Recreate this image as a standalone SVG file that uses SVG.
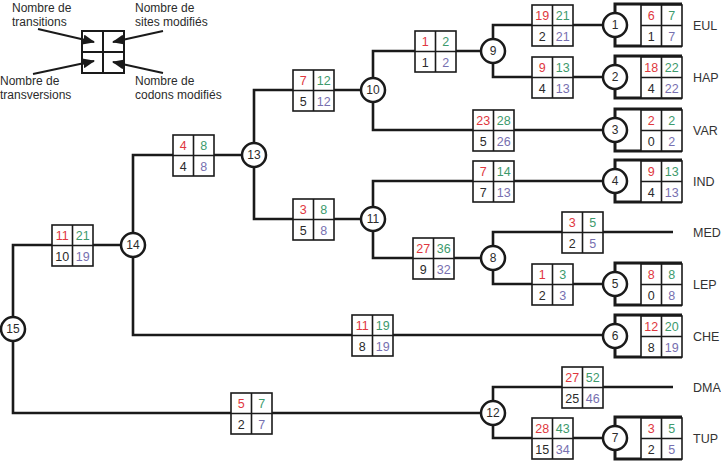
<svg xmlns="http://www.w3.org/2000/svg" width="721" height="465" viewBox="0 0 721 465">
<style>
text{font-family:"Liberation Sans",Arial,sans-serif;font-size:12.5px;fill:#2b2b2b}
.n{text-anchor:middle}
.r{fill:#e0383e}.g{fill:#3d9a6c}.p{fill:#7770b0}.k{fill:#2b2b2b}
.edge{fill:none;stroke:#1a1a1a;stroke-width:2.6}
.br{fill:none;stroke:#1a1a1a;stroke-width:3}
.box{fill:#fff;stroke:#1a1a1a;stroke-width:1.6}
.node circle{fill:#fff;stroke:#1a1a1a;stroke-width:2.5}
.node text{font-size:12px}
.tx{font-size:12.5px;fill:#333}
.leg{font-size:12px;fill:#2b2b2b}
.arr{stroke:#1a1a1a;stroke-width:2;fill:none}
</style>
<defs>
<g id="grid"><rect class="box" x="0" y="0" width="41" height="41"/><path d="M20.5 0V41M0 20.5H41" stroke="#1a1a1a" stroke-width="1.6"/></g>
<marker id="ah" markerUnits="userSpaceOnUse" markerWidth="12" markerHeight="10" refX="11" refY="5" orient="auto"><path d="M0,0 L12,5 L0,10 z" fill="#1a1a1a"/></marker>
</defs>

<g id="legend">
<rect x="82" y="31" width="42" height="42" fill="#fff" stroke="#1a1a1a" stroke-width="2"/>
<path d="M103 31V73M82 52H124" stroke="#1a1a1a" stroke-width="2"/>
<line class="arr" x1="38" y1="29" x2="94" y2="42" marker-end="url(#ah)"/>
<line class="arr" x1="163" y1="31" x2="113" y2="42" marker-end="url(#ah)"/>
<line class="arr" x1="33" y1="74" x2="94" y2="61" marker-end="url(#ah)"/>
<line class="arr" x1="163" y1="73" x2="113" y2="62" marker-end="url(#ah)"/>
<text class="leg" x="12" y="12">Nombre de</text>
<text class="leg" x="12" y="26">transitions</text>
<text class="leg" x="135" y="12">Nombre de</text>
<text class="leg" x="135" y="26">sites modifiés</text>
<text class="leg" x="0" y="85">Nombre de</text>
<text class="leg" x="0" y="99">transversions</text>
<text class="leg" x="135" y="85">Nombre de</text>
<text class="leg" x="135" y="99">codons modifiés</text>
</g>

<g id="connectors">
<path class="edge" d="M133 245H13V413H493"/>
<path class="edge" d="M254 155H133V335H615"/>
<path class="edge" d="M373 90H254V219H373"/>
<path class="edge" d="M493 51H373V130H615"/>
<path class="edge" d="M615 181H373V258H493"/>
<path class="edge" d="M615 25H493V77H615"/>
<path class="edge" d="M673 232H493V284H615"/>
<path class="edge" d="M673 387H493V438H615"/>
<path class="br" d="M682 4H615V46H682"/>
<path class="br" d="M682 56H615V98H682"/>
<path class="br" d="M682 109H615V151H682"/>
<path class="br" d="M682 160H615V202H682"/>
<path class="br" d="M682 263H615V305H682"/>
<path class="br" d="M682 315H615V357H682"/>
<path class="br" d="M682 417H615V459H682"/>
</g>

<g id="boxes">
<g id="b-10-9" transform="translate(415,31)"><use href="#grid"/><text class="n r" x="10.3" y="15">1</text><text class="n g" x="30.8" y="15">2</text><text class="n k" x="10.3" y="35.5">1</text><text class="n p" x="30.8" y="35.5">2</text></g>
<g id="b-9-1" transform="translate(532,5)"><use href="#grid"/><text class="n r" x="10.3" y="15">19</text><text class="n g" x="30.8" y="15">21</text><text class="n k" x="10.3" y="35.5">2</text><text class="n p" x="30.8" y="35.5">21</text></g>
<g id="b-9-2" transform="translate(532,57)"><use href="#grid"/><text class="n r" x="10.3" y="15">9</text><text class="n g" x="30.8" y="15">13</text><text class="n k" x="10.3" y="35.5">4</text><text class="n p" x="30.8" y="35.5">13</text></g>
<g id="b-10-3" transform="translate(473,110)"><use href="#grid"/><text class="n r" x="10.3" y="15">23</text><text class="n g" x="30.8" y="15">28</text><text class="n k" x="10.3" y="35.5">5</text><text class="n p" x="30.8" y="35.5">26</text></g>
<g id="b-11-4" transform="translate(473,161)"><use href="#grid"/><text class="n r" x="10.3" y="15">7</text><text class="n g" x="30.8" y="15">14</text><text class="n k" x="10.3" y="35.5">7</text><text class="n p" x="30.8" y="35.5">13</text></g>
<g id="b-8-med" transform="translate(562,212)"><use href="#grid"/><text class="n r" x="10.3" y="15">3</text><text class="n g" x="30.8" y="15">5</text><text class="n k" x="10.3" y="35.5">2</text><text class="n p" x="30.8" y="35.5">5</text></g>
<g id="b-11-8" transform="translate(413,238)"><use href="#grid"/><text class="n r" x="10.3" y="15">27</text><text class="n g" x="30.8" y="15">36</text><text class="n k" x="10.3" y="35.5">9</text><text class="n p" x="30.8" y="35.5">32</text></g>
<g id="b-8-5" transform="translate(532,264)"><use href="#grid"/><text class="n r" x="10.3" y="15">1</text><text class="n g" x="30.8" y="15">3</text><text class="n k" x="10.3" y="35.5">2</text><text class="n p" x="30.8" y="35.5">3</text></g>
<g id="b-14-6" transform="translate(352,315)"><use href="#grid"/><text class="n r" x="10.3" y="15">11</text><text class="n g" x="30.8" y="15">19</text><text class="n k" x="10.3" y="35.5">8</text><text class="n p" x="30.8" y="35.5">19</text></g>
<g id="b-12-dma" transform="translate(562,367)"><use href="#grid"/><text class="n r" x="10.3" y="15">27</text><text class="n g" x="30.8" y="15">52</text><text class="n k" x="10.3" y="35.5">25</text><text class="n p" x="30.8" y="35.5">46</text></g>
<g id="b-12-7" transform="translate(532,418)"><use href="#grid"/><text class="n r" x="10.3" y="15">28</text><text class="n g" x="30.8" y="15">43</text><text class="n k" x="10.3" y="35.5">15</text><text class="n p" x="30.8" y="35.5">34</text></g>
<g id="b-13-10" transform="translate(293,70)"><use href="#grid"/><text class="n r" x="10.3" y="15">7</text><text class="n g" x="30.8" y="15">12</text><text class="n k" x="10.3" y="35.5">5</text><text class="n p" x="30.8" y="35.5">12</text></g>
<g id="b-14-13" transform="translate(173,135)"><use href="#grid"/><text class="n r" x="10.3" y="15">4</text><text class="n g" x="30.8" y="15">8</text><text class="n k" x="10.3" y="35.5">4</text><text class="n p" x="30.8" y="35.5">8</text></g>
<g id="b-13-11" transform="translate(293,199)"><use href="#grid"/><text class="n r" x="10.3" y="15">3</text><text class="n g" x="30.8" y="15">8</text><text class="n k" x="10.3" y="35.5">5</text><text class="n p" x="30.8" y="35.5">8</text></g>
<g id="b-15-14" transform="translate(52,225)"><use href="#grid"/><text class="n r" x="10.3" y="15">11</text><text class="n g" x="30.8" y="15">21</text><text class="n k" x="10.3" y="35.5">10</text><text class="n p" x="30.8" y="35.5">19</text></g>
<g id="b-15-12" transform="translate(231,393)"><use href="#grid"/><text class="n r" x="10.3" y="15">5</text><text class="n g" x="30.8" y="15">7</text><text class="n k" x="10.3" y="35.5">2</text><text class="n p" x="30.8" y="35.5">7</text></g>
<g id="t-eul" transform="translate(641,5)"><use href="#grid"/><text class="n r" x="10.3" y="15">6</text><text class="n g" x="30.8" y="15">7</text><text class="n k" x="10.3" y="35.5">1</text><text class="n p" x="30.8" y="35.5">7</text></g>
<g id="t-hap" transform="translate(641,57)"><use href="#grid"/><text class="n r" x="10.3" y="15">18</text><text class="n g" x="30.8" y="15">22</text><text class="n k" x="10.3" y="35.5">4</text><text class="n p" x="30.8" y="35.5">22</text></g>
<g id="t-var" transform="translate(641,110)"><use href="#grid"/><text class="n r" x="10.3" y="15">2</text><text class="n g" x="30.8" y="15">2</text><text class="n k" x="10.3" y="35.5">0</text><text class="n p" x="30.8" y="35.5">2</text></g>
<g id="t-ind" transform="translate(641,161)"><use href="#grid"/><text class="n r" x="10.3" y="15">9</text><text class="n g" x="30.8" y="15">13</text><text class="n k" x="10.3" y="35.5">4</text><text class="n p" x="30.8" y="35.5">13</text></g>
<g id="t-lep" transform="translate(641,264)"><use href="#grid"/><text class="n r" x="10.3" y="15">8</text><text class="n g" x="30.8" y="15">8</text><text class="n k" x="10.3" y="35.5">0</text><text class="n p" x="30.8" y="35.5">8</text></g>
<g id="t-che" transform="translate(641,316)"><use href="#grid"/><text class="n r" x="10.3" y="15">12</text><text class="n g" x="30.8" y="15">20</text><text class="n k" x="10.3" y="35.5">8</text><text class="n p" x="30.8" y="35.5">19</text></g>
<g id="t-tup" transform="translate(641,418)"><use href="#grid"/><text class="n r" x="10.3" y="15">3</text><text class="n g" x="30.8" y="15">5</text><text class="n k" x="10.3" y="35.5">2</text><text class="n p" x="30.8" y="35.5">5</text></g>
</g>

<g id="node-1" class="node"><circle cx="615" cy="25" r="12"/><text class="n" x="615" y="29">1</text></g>
<g id="node-2" class="node"><circle cx="615" cy="77" r="12"/><text class="n" x="615" y="81">2</text></g>
<g id="node-3" class="node"><circle cx="615" cy="130" r="12"/><text class="n" x="615" y="134">3</text></g>
<g id="node-4" class="node"><circle cx="615" cy="181" r="12"/><text class="n" x="615" y="185">4</text></g>
<g id="node-5" class="node"><circle cx="615" cy="284" r="12"/><text class="n" x="615" y="288">5</text></g>
<g id="node-6" class="node"><circle cx="615" cy="336" r="12"/><text class="n" x="615" y="340">6</text></g>
<g id="node-7" class="node"><circle cx="615" cy="438" r="12"/><text class="n" x="615" y="442">7</text></g>
<g id="node-8" class="node"><circle cx="493" cy="258" r="12"/><text class="n" x="493" y="262">8</text></g>
<g id="node-9" class="node"><circle cx="493" cy="51" r="12"/><text class="n" x="493" y="55">9</text></g>
<g id="node-10" class="node"><circle cx="373" cy="90" r="12"/><text class="n" x="373" y="94">10</text></g>
<g id="node-11" class="node"><circle cx="373" cy="219" r="12"/><text class="n" x="373" y="223">11</text></g>
<g id="node-12" class="node"><circle cx="493" cy="413" r="12"/><text class="n" x="493" y="417">12</text></g>
<g id="node-13" class="node"><circle cx="254" cy="155" r="12"/><text class="n" x="254" y="159">13</text></g>
<g id="node-14" class="node"><circle cx="133" cy="245" r="12"/><text class="n" x="133" y="249">14</text></g>
<g id="node-15" class="node"><circle cx="13" cy="329" r="12"/><text class="n" x="13" y="333">15</text></g>

<g id="labels">
<text class="tx" x="693" y="30">EUL</text>
<text class="tx" x="693" y="82">HAP</text>
<text class="tx" x="693" y="135">VAR</text>
<text class="tx" x="693" y="186">IND</text>
<text class="tx" x="693" y="237">MED</text>
<text class="tx" x="693" y="289">LEP</text>
<text class="tx" x="693" y="341">CHE</text>
<text class="tx" x="693" y="392">DMA</text>
<text class="tx" x="693" y="443">TUP</text>
</g>
</svg>
